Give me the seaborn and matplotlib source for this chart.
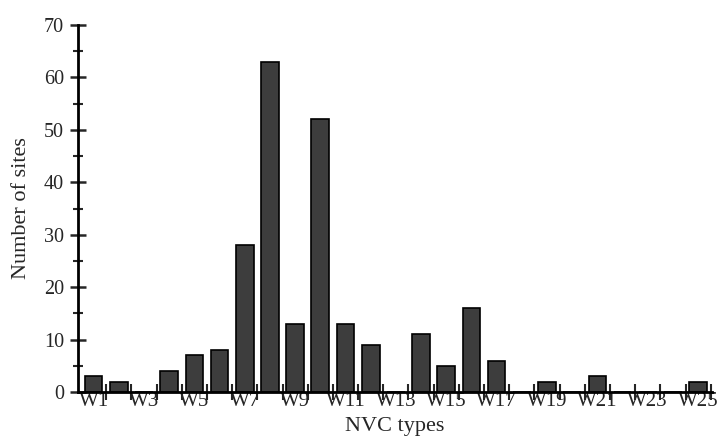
import matplotlib
matplotlib.use("Agg")
import matplotlib.pyplot as plt
import seaborn as sns
import pandas as pd
import numpy as np

categories = [f"W{i}" for i in range(1, 26)]
values = [3, 2, 0, 4, 7, 8, 28, 63, 13, 52, 13, 9, 0, 11, 5, 16, 6, 0, 2, 0, 3, 0, 0, 0, 2]
tick_labels = [f"W{i}" for i in range(1, 26, 2)]

sns.set_style("white")
plt.rcParams['font.family'] = ['Liberation Serif', 'DejaVu Serif']

df = pd.DataFrame({"type": categories, "n": values})

fig = plt.figure(figsize=(7.19, 4.41), dpi=100)
ax = fig.add_axes([78/719, 1-392/441, (712-78)/719, (392-25)/441])

sns.barplot(data=df, x="type", y="n", color="#3d3d3d", edgecolor="black",
            linewidth=1.2, width=0.7, saturation=1, ax=ax)

ax.set_ylim(0, 70)
ax.set_xlim(-0.62, 24.55)

for s in ["top", "right"]:
    ax.spines[s].set_visible(False)
for s in ["left", "bottom"]:
    ax.spines[s].set_linewidth(2)
    ax.spines[s].set_color("black")

ax.set_yticks(np.arange(0, 71, 10))
ax.set_yticks(np.arange(5, 70, 10), minor=True)
ax.tick_params(axis="y", which="major", direction="inout", length=12, width=1.8,
               labelsize=14.5, pad=4, left=True)
ax.tick_params(axis="y", which="minor", direction="inout", length=7, width=1.5, left=True)

ax.set_xticks(range(0, 25, 2))
ax.set_xticklabels(tick_labels)
ax.set_xticks(np.arange(0.5, 24.6, 1), minor=True)
ax.tick_params(axis="x", which="major", length=0, labelsize=15, pad=0)
ax.tick_params(axis="x", which="minor", direction="inout", length=11, width=1.5, bottom=True)

ax.set_ylabel("Number of sites", fontsize=16, labelpad=9)
ax.set_xlabel("NVC types", fontsize=16, labelpad=4)

fig.savefig("out.png", dpi=100)
